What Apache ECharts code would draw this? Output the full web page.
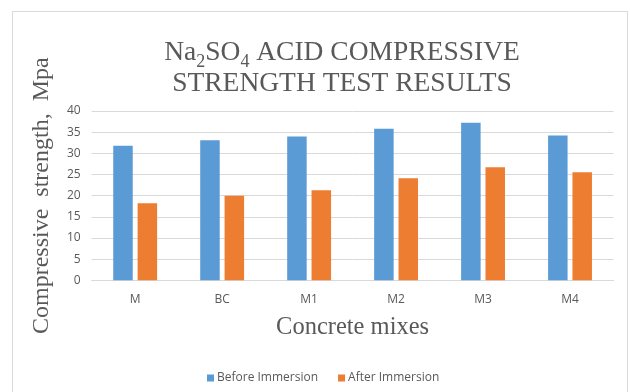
<!DOCTYPE html>
<html>
<head>
<meta charset="utf-8">
<script src="https://cdn.jsdelivr.net/npm/echarts@6/dist/echarts.min.js"></script>
<style>
  html, body { margin: 0; padding: 0; background: #ffffff; }
  #chart { width: 630px; height: 392px; }
</style>
</head>
<body>
<div id="chart"></div>
<script>
// Compressive strength (MPa) of each concrete mix, before and after Na2SO4 immersion
const mixes = ['M', 'BC', 'M1', 'M2', 'M3', 'M4'];
const beforeImmersion = [31.8, 33.1, 34.0, 35.8, 37.2, 34.2];
const afterImmersion = [18.2, 20.0, 21.3, 24.1, 26.7, 25.5];
const seriesNames = ['Before Immersion', 'After Immersion'];
const yTicks = { min: 0, max: 40, step: 5 };

const textGray = '#595959';
const gridGray = '#d9d9d9';
const serif = '"Liberation Serif", "Times New Roman", serif';
const sans = '"Open Sans", "Noto Sans", sans-serif';

const chart = echarts.init(document.getElementById('chart'), null, { renderer: 'canvas' });

chart.setOption({
  backgroundColor: '#ffffff',
  animation: false,
  graphic: [{
    type: 'rect',
    shape: { x: 12.5, y: 11.5, width: 615, height: 400 },
    style: { fill: 'none', stroke: gridGray, lineWidth: 1 },
    silent: true
  }],
  title: {
    text: 'Na{sub|2}SO{sub|4} ACID COMPRESSIVE\nSTRENGTH TEST RESULTS',
    left: 337,
    top: 32,
    textAlign: 'center',
    textStyle: {
      fontFamily: serif,
      fontSize: 27.5,
      fontWeight: 'normal',
      color: textGray,
      lineHeight: 31,
      rich: {
        sub: {
          fontFamily: serif,
          fontSize: 18,
          color: textGray,
          lineHeight: 18,
          padding: [20, 0, 0, 0]
        }
      }
    }
  },
  legend: {
    data: seriesNames,
    left: 202,
    top: 367,
    icon: 'rect',
    itemWidth: 7,
    itemHeight: 7,
    itemGap: 20,
    textStyle: { fontFamily: sans, fontSize: 12, color: textGray, padding: [0, 0, 0, -2] }
  },
  grid: { left: 91.7, right: 16.5, top: 111, bottom: 111.7, containLabel: false },
  xAxis: {
    type: 'category',
    data: mixes,
    name: 'Concrete mixes',
    nameLocation: 'middle',
    nameGap: 35,
    nameTextStyle: { fontFamily: serif, fontSize: 24.5, color: textGray },
    axisLine: { lineStyle: { color: gridGray, width: 1 } },
    axisTick: { show: false },
    axisLabel: { fontFamily: sans, fontSize: 12, color: textGray, margin: 13 }
  },
  yAxis: {
    type: 'value',
    min: yTicks.min,
    max: yTicks.max,
    interval: yTicks.step,
    name: 'Compressive  strength,  Mpa',
    nameLocation: 'middle',
    nameRotate: 90,
    nameGap: 38,
    nameTextStyle: { fontFamily: serif, fontSize: 24, color: textGray },
    axisLine: { show: false },
    axisTick: { show: false },
    axisLabel: { fontFamily: sans, fontSize: 12, color: textGray, margin: 11 },
    splitLine: { lineStyle: { color: gridGray, width: 1 } }
  },
  series: [
    {
      name: seriesNames[0],
      type: 'bar',
      data: beforeImmersion,
      barWidth: 19.5,
      barGap: '25%',
      itemStyle: { color: '#5B9BD5' }
    },
    {
      name: seriesNames[1],
      type: 'bar',
      data: afterImmersion,
      barWidth: 19.5,
      barGap: '25%',
      itemStyle: { color: '#ED7D31' }
    }
  ]
});
</script>
</body>
</html>
